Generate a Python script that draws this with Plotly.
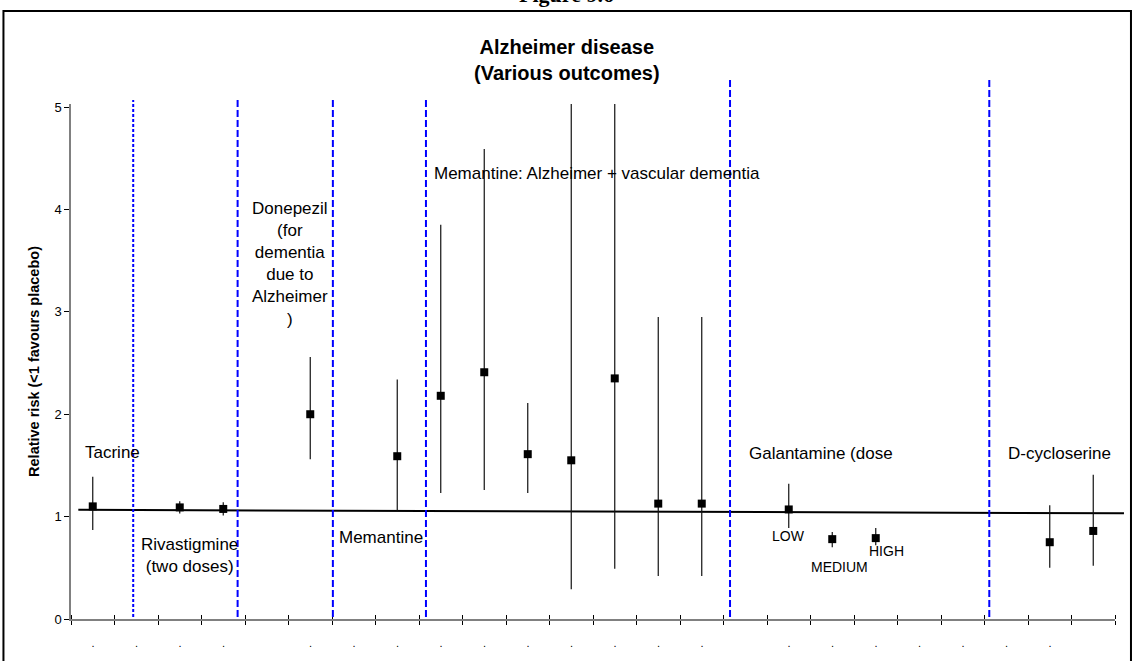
import plotly.graph_objects as go

# x-axis category slots (24 of them); three slots carry no label
cat_labels = [".", ".", ".", ".", "", ".", ".", ".", ".", ".", ".", ".",
              ".", ".", ".", "", ".", ".", ".", ".", ".", ".", ".", ""]

# relative risk estimates: slot index, point estimate, lower and upper limit
slot = [0, 2, 3, 5, 7, 8, 9, 10, 11, 12, 13, 14, 16, 17, 18, 22, 23]
rr = [1.10, 1.09, 1.075, 2.00, 1.59, 2.18, 2.41, 1.61, 1.55, 2.35, 1.127, 1.127,
      1.07, 0.78, 0.79, 0.75, 0.86]
rr_low = [0.87, 1.03, 1.01, 1.56, 1.06, 1.23, 1.26, 1.23, 0.29, 0.49, 0.42, 0.42,
          0.89, 0.70, 0.72, 0.50, 0.52]
rr_high = [1.39, 1.15, 1.14, 2.56, 2.34, 3.85, 4.59, 2.11, 5.03, 5.03, 2.95, 2.95,
           1.32, 0.85, 0.89, 1.11, 1.41]

# y axis ticks
y_ticks = [0, 1, 2, 3, 4, 5]

# reference line heights at its left and right ends
ref_y = [1.066, 1.033]

# drug group dividers (in slot units)
divider_x = [0.93, 3.33, 5.52, 7.66, 14.65, 20.61]

# drug group labels
group_text = ["Tacrine", "Rivastigmine<br>(two doses)",
              "Donepezil<br>(for<br>dementia<br>due to<br>Alzheimer<br>)",
              "Memantine", "Memantine: Alzheimer + vascular dementia",
              "Galantamine (dose", "D-cycloserine"]
group_x = [0.45, 2.22, 4.53, 6.63, 7.79, 15.03, 20.99]
group_y = [1.626, 0.618, 3.468, 0.80, 4.347, 1.62, 1.62]
group_anchor = ["center", "center", "center", "center", "left", "left", "left"]

# galantamine dose labels
dose_text = ["LOW", "MEDIUM", "HIGH"]
dose_x = [16.0, 17.16, 18.24]
dose_y = [0.811, 0.511, 0.665]

n_slots = len(cat_labels)
bounds = [i - 0.5 for i in range(n_slots + 1)]

fig = go.Figure()

fig.add_trace(go.Scatter(
    x=slot, y=rr, mode="markers",
    marker=dict(symbol="square", size=8, color="black"),
    error_y=dict(type="data", symmetric=False,
                 array=[h - v for h, v in zip(rr_high, rr)],
                 arrayminus=[v - l for v, l in zip(rr, rr_low)],
                 width=0, thickness=1.2, color="#111111"),
    hoverinfo="skip",
))

shapes = []
# reference line, slightly sloping, reaching just past the axis end
shapes.append(dict(type="line", xref="paper", yref="y",
                   x0=0.007, x1=1.0086, y0=ref_y[0], y1=ref_y[1],
                   line=dict(color="black", width=2), layer="below"))
for i, xv in enumerate(divider_x):
    top = 1.008 if i < 4 else 1.047
    dash = "3px,2px" if i == 0 else "7px,3px"
    shapes.append(dict(type="line", xref="x", yref="paper",
                       x0=xv, x1=xv, y0=0.004, y1=top,
                       line=dict(color="#0000FF", width=2, dash=dash)))
# outer frame
shapes.append(dict(type="rect", xref="paper", yref="paper",
                   x0=-0.0647, x1=1.0153, y0=-0.2, y1=1.1806,
                   line=dict(color="black", width=2)))

annotations = []
for t, xv, yv, anc in zip(group_text, group_x, group_y, group_anchor):
    annotations.append(dict(text=t, x=xv, y=yv, xref="x", yref="y",
                            xanchor=anc, yanchor="middle", showarrow=False,
                            font=dict(size=17, color="black")))
for t, xv, yv in zip(dose_text, dose_x, dose_y):
    annotations.append(dict(text=t, x=xv, y=yv, xref="x", yref="y",
                            xanchor="center", yanchor="middle", showarrow=False,
                            font=dict(size=14, color="black")))
annotations.append(dict(text="<b>Alzheimer disease</b><br><b>(Various outcomes)</b>",
                        x=0.475, y=1.0864, xref="paper", yref="paper",
                        xanchor="center", yanchor="middle", showarrow=False,
                        font=dict(size=20, color="black")))
annotations.append(dict(text="<b>Figure 9.6</b>",
                        x=0.475, y=1.1845, xref="paper", yref="paper",
                        xanchor="center", yanchor="bottom", showarrow=False,
                        font=dict(size=22, color="black",
                                  family="Liberation Serif, DejaVu Serif, serif")))

fig.update_layout(
    width=1133, height=661,
    margin=dict(l=71, r=18, t=104, b=42),
    paper_bgcolor="white", plot_bgcolor="white",
    showlegend=False,
    font=dict(family="Liberation Sans, Arial, sans-serif", color="black"),
    shapes=shapes, annotations=annotations,
    xaxis=dict(range=[-0.5, n_slots - 0.5],
               tickmode="array", tickvals=bounds, ticktext=cat_labels + [""],
               ticks="outside", ticklen=4, tickwidth=1, tickcolor="black",
               ticklabelshift=22, ticklabelstandoff=9,
               tickfont=dict(size=11),
               minor=dict(tickmode="array", tickvals=[b + 1e-4 for b in bounds],
                          ticks="inside", ticklen=4, tickwidth=1, tickcolor="black",
                          showgrid=False),
               showline=True, linecolor="#808080", linewidth=1.5,
               showgrid=False, zeroline=False),
    yaxis=dict(range=[0, 5.03], tickmode="array", tickvals=y_ticks,
               ticks="outside", ticklen=5, tickwidth=1, tickcolor="black",
               tickfont=dict(size=13),
               showline=True, linecolor="#808080", linewidth=1.5,
               showgrid=False, zeroline=False,
               title=dict(text="Relative risk (&lt;1 favours placebo)",
                          font=dict(size=14.5, weight="bold"), standoff=11)),
)

fig.write_html("out.html")
